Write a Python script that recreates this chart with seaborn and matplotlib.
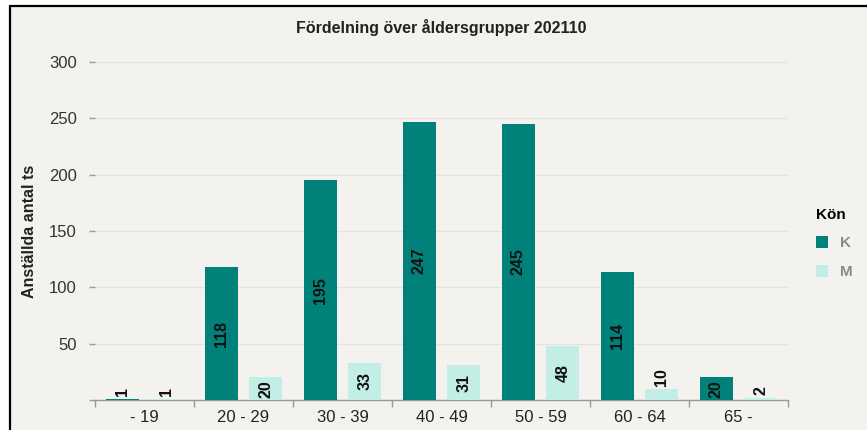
import matplotlib
matplotlib.use("Agg")
import matplotlib.pyplot as plt
from matplotlib.patches import Rectangle, Patch
import numpy as np
import pandas as pd
import seaborn as sns

# ---- data ----
groups = ["- 19", "20 - 29", "30 - 39", "40 - 49", "50 - 59", "60 - 64", "65 -"]
values_K = [1, 118, 195, 247, 245, 114, 20]
values_M = [1, 20, 33, 31, 48, 10, 2]
series = ["K", "M"]
yticks = [0, 50, 100, 150, 200, 250, 300]
ytick_labels = ["", "50", "100", "150", "200", "250", "300"]
title = "Fördelning över åldersgrupper 202110"
ylabel = "Anställda antal ts"
legend_title = "Kön"

colors = {"K": "#00827A", "M": "#C2EEE6"}

df = pd.DataFrame({
    "grupp": groups * 2,
    "antal": values_K + values_M,
    "kon": ["K"] * len(groups) + ["M"] * len(groups),
})

plt.rcParams["font.family"] = ["Liberation Sans", "DejaVu Sans"]

W, H = 867, 430
fig = plt.figure(figsize=(W / 100, H / 100), dpi=100, facecolor="white")

# outer frame
frame = Rectangle((9.5 / W, -0.1), 1.2, (H - 6.5) / H + 0.1, transform=fig.transFigure,
                  facecolor="#F3F2EE", edgecolor="black", linewidth=1.6, zorder=-10)
fig.patches.append(frame)

ax = fig.add_axes([95 / W, 30 / H, (788 - 95) / W, (400 - 62) / H])
ax.set_facecolor("none")
ax.set_zorder(1)

sns.barplot(data=df, x="grupp", y="antal", hue="kon", hue_order=series,
            order=groups, palette=colors, width=0.9, gap=0.25, saturation=1,
            errorbar=None, legend=False, linewidth=0, ax=ax, zorder=3)

ax.set_xlim(-0.5, len(groups) - 0.5)
ax.set_ylim(0, 300)

# bar labels
for cont in ax.containers:
    vals = [b.get_height() for b in cont]
    inside = [f"{v:.0f}" if v >= 15 else "" for v in vals]
    above = [f"{v:.0f}" if v < 15 else "" for v in vals]
    ax.bar_label(cont, labels=inside, label_type="center", rotation=90,
                 fontsize=11.5, fontweight="bold", color="#111111", zorder=5)
    ax.bar_label(cont, labels=above, label_type="edge", rotation=90,
                 padding=2, fontsize=11.5, fontweight="bold", color="#111111", zorder=5)

# axes styling
for s in ["top", "right", "left"]:
    ax.spines[s].set_visible(False)
ax.spines["bottom"].set_color("#9A9A9A")
ax.spines["bottom"].set_linewidth(1.0)

ax.set_yticks(yticks)
ax.set_yticklabels(ytick_labels)
ax.tick_params(axis="y", length=4, width=1, color="#9A9A9A", pad=9,
               labelsize=12, labelcolor="#333333")
ax.set_xticks(range(len(groups)))
ax.set_xticklabels(groups)
ax.tick_params(axis="x", which="major", length=0, pad=7, labelsize=12,
               labelcolor="#222222")
ax.set_xticks(np.arange(-0.5, len(groups), 1), minor=True)
ax.tick_params(axis="x", which="minor", length=5, width=1, color="#9A9A9A")

ax.grid(axis="y", color="#E2E2E2", linewidth=0.8)
ax.grid(axis="x", visible=False)
ax.set_axisbelow(True)

ax.set_xlabel("")
ax.set_ylabel(ylabel, fontsize=11.5, fontweight="bold", color="#222222")
ax.yaxis.set_label_coords(-0.083, 0.5)

fig.text(441 / W, 1 - 27 / H, title, ha="center", va="center",
         fontsize=11.5, fontweight="bold", color="#222222")

handles = [Patch(facecolor=colors[s], edgecolor="none") for s in series]
leg = fig.legend(handles, series, title=legend_title, loc="upper left",
                 bbox_to_anchor=(802 / W, 1 - 194 / H), frameon=False,
                 handlelength=0.8, handleheight=0.8, handletextpad=0.8,
                 labelspacing=0.95, alignment="left",
                 prop={"weight": "bold", "size": 11},
                 title_fontproperties={"weight": "bold", "size": 11},
                 labelcolor="#8A8A8A")

fig.savefig("out.png", dpi=100, facecolor="white")
